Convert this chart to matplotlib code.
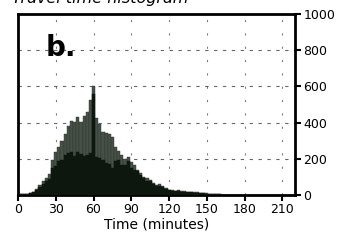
import matplotlib
matplotlib.use("Agg")
import matplotlib.pyplot as plt
import numpy as np

# histogram bins, 2.5 minutes wide, centred on multiples of 2.5
bin_centres = np.arange(0, 220, 2.5)

# all trips (grey) and the dark sub-group, counts per bin
total_counts = [2, 3, 4, 5, 10, 18, 35, 55, 75, 95, 115, 195, 240, 265, 300, 335,
                380, 410, 405, 430, 405, 435, 460, 525, 600, 425, 395, 350, 345, 337,
                322, 267, 245, 220, 200, 212, 185, 165, 138, 120, 101, 92, 83, 68,
                55, 60, 50, 38, 30, 25, 24, 25, 22, 20, 18, 17, 15, 14, 12, 11,
                9, 8, 6, 5, 3, 2, 1, 1, 1, 0, 0, 0, 0, 0, 0, 0, 0, 0, 0, 0,
                0, 0, 0, 0, 0, 0, 0, 0]
dark_counts = [2, 3, 4, 5, 9, 15, 30, 45, 60, 75, 90, 150, 160, 190, 195, 220,
               232, 240, 215, 235, 225, 215, 220, 230, 560, 210, 205, 195, 177, 170,
               150, 190, 193, 165, 165, 190, 150, 140, 130, 110, 95, 80, 75, 60,
               50, 52, 45, 33, 27, 22, 21, 22, 19, 17, 16, 15, 13, 12, 10, 10,
               8, 7, 5, 4, 3, 2, 1, 1, 1, 0, 0, 0, 0, 0, 0, 0, 0, 0, 0, 0,
               0, 0, 0, 0, 0, 0, 0, 0]

xticks = [0, 30, 60, 90, 120, 150, 180, 210]
yticks = [0, 200, 400, 600, 800, 1000]

fig = plt.figure(figsize=(3.43, 2.42), dpi=100)
ax = fig.add_axes([18/343, 47/242, 277/343, 181/242])

ax.bar(bin_centres, total_counts, width=2.5, align="center", color="#475047",
       edgecolor="#2c342c", linewidth=0.3, zorder=2)
ax.bar(bin_centres, dark_counts, width=2.5, align="center", color="#0e170e",
       edgecolor="#0e170e", linewidth=0.3, zorder=3)

ax.set_xlim(0, 220)
ax.set_ylim(0, 1000)
ax.set_xticks(xticks)
ax.set_yticks(yticks)

# grid: dashed horizontal, sparse dotted vertical
for y in yticks[1:-1]:
    ax.axhline(y, color="k", lw=0.8, ls=(0, (3, 5)), alpha=0.6, zorder=1)
for x in xticks[1:]:
    ax.axvline(x, color="k", lw=0.8, ls=(0, (2, 10)), alpha=0.5, zorder=1)

ax.yaxis.tick_right()
ax.tick_params(axis="both", direction="out", length=4, width=1.5, labelsize=9, pad=2)
for s in ax.spines.values():
    s.set_linewidth(2)

ax.set_xlabel("Time (minutes)", fontsize=10, labelpad=1)
ax.text(0.155, 0.81, "b.", transform=ax.transAxes, fontsize=20,
        fontweight="bold", ha="center", va="center", zorder=5)

fig.text(12/343, 1 - 3/242, "Travel time histogram", fontsize=11.5,
         style="italic", ha="left", va="baseline")

fig.savefig("out.png", dpi=100)
